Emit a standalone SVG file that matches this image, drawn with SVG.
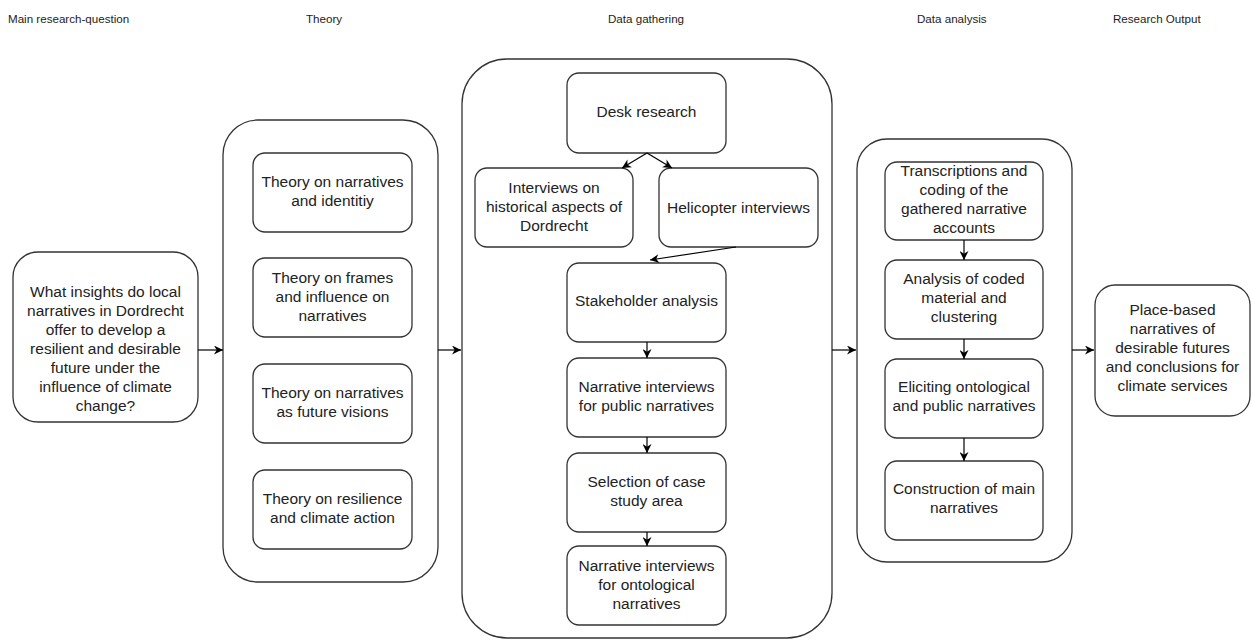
<svg xmlns="http://www.w3.org/2000/svg" width="1252" height="641" viewBox="0 0 1252 641">
<style>
.bg{fill:#fff}
.box{fill:#fff;stroke:#333;stroke-width:1.3}
.t{font-family:"Liberation Sans",Arial,sans-serif;font-size:15.5px;fill:#222;text-anchor:middle}
.h{font-family:"Liberation Sans",Arial,sans-serif;font-size:11.6px;fill:#222}
.c{fill:none;stroke:#000;stroke-width:1.2}
</style>
<defs>
<marker id="ah" viewBox="0 0 10 10" refX="10" refY="5" markerWidth="10" markerHeight="9" markerUnits="userSpaceOnUse" orient="auto">
<path d="M0,0 L10,5 L0,10 L3,5 z" fill="#000"/>
</marker>
</defs>
<rect class="bg" x="0" y="0" width="1252" height="641"/>

<g id="headers">
<text class="h" x="8" y="23">Main research-question</text>
<text class="h" x="306" y="23">Theory</text>
<text class="h" x="608" y="23">Data gathering</text>
<text class="h" x="917" y="23">Data analysis</text>
<text class="h" x="1113" y="23">Research Output</text>
</g>

<g id="question">
<rect class="box" x="13" y="252" width="185" height="170" rx="25"/>
<text class="t"><tspan x="105.5" y="297">What insights do local</tspan><tspan x="105.5" y="316">narratives in Dordrecht</tspan><tspan x="105.5" y="335">offer to develop a</tspan><tspan x="105.5" y="354">resilient and desirable</tspan><tspan x="105.5" y="373">future under the</tspan><tspan x="105.5" y="392">influence of climate</tspan><tspan x="105.5" y="411">change?</tspan></text>
</g>

<g id="theory">
<rect class="box" x="223" y="120" width="215" height="462" rx="35"/>
<g id="theory1"><rect class="box" x="253" y="153" width="159" height="79" rx="12"/>
<text class="t"><tspan x="332.5" y="187">Theory on narratives</tspan><tspan x="332.5" y="206">and identitiy</tspan></text></g>
<g id="theory2"><rect class="box" x="253" y="258" width="159" height="79" rx="12"/>
<text class="t"><tspan x="332.5" y="283">Theory on frames</tspan><tspan x="332.5" y="302">and influence on</tspan><tspan x="332.5" y="321">narratives</tspan></text></g>
<g id="theory3"><rect class="box" x="253" y="364" width="159" height="79" rx="12"/>
<text class="t"><tspan x="332.5" y="398">Theory on narratives</tspan><tspan x="332.5" y="417">as future visions</tspan></text></g>
<g id="theory4"><rect class="box" x="253" y="470" width="159" height="79" rx="12"/>
<text class="t"><tspan x="332.5" y="504">Theory on resilience</tspan><tspan x="332.5" y="523">and climate action</tspan></text></g>
</g>

<g id="gathering">
<rect class="box" x="462" y="59" width="370" height="579" rx="45"/>
<g id="desk"><rect class="box" x="567" y="73" width="159" height="80" rx="12"/>
<text class="t" x="646.5" y="117">Desk research</text></g>
<g id="historical"><rect class="box" x="475" y="168" width="158" height="79" rx="12"/>
<text class="t"><tspan x="554" y="193">Interviews on</tspan><tspan x="554" y="212">historical aspects of</tspan><tspan x="554" y="231">Dordrecht</tspan></text></g>
<g id="helicopter"><rect class="box" x="659" y="168" width="159" height="79" rx="12"/>
<text class="t" x="738.5" y="213">Helicopter interviews</text></g>
<g id="stakeholder"><rect class="box" x="567" y="263" width="159" height="79" rx="12"/>
<text class="t" x="646.5" y="306">Stakeholder analysis</text></g>
<g id="public"><rect class="box" x="567" y="358" width="159" height="79" rx="12"/>
<text class="t"><tspan x="646.5" y="392">Narrative interviews</tspan><tspan x="646.5" y="411">for public narratives</tspan></text></g>
<g id="selection"><rect class="box" x="567" y="453" width="159" height="79" rx="12"/>
<text class="t"><tspan x="646.5" y="487">Selection of case</tspan><tspan x="646.5" y="506">study area</tspan></text></g>
<g id="ontological"><rect class="box" x="567" y="546" width="159" height="79" rx="12"/>
<text class="t"><tspan x="646.5" y="571">Narrative interviews</tspan><tspan x="646.5" y="590">for ontological</tspan><tspan x="646.5" y="609">narratives</tspan></text></g>
</g>

<g id="analysis">
<rect class="box" x="857" y="139" width="215" height="423" rx="30"/>
<g id="transcriptions"><rect class="box" x="885" y="162" width="158" height="78" rx="12"/>
<text class="t"><tspan x="964" y="176">Transcriptions and</tspan><tspan x="964" y="195">coding of the</tspan><tspan x="964" y="214">gathered narrative</tspan><tspan x="964" y="233">accounts</tspan></text></g>
<g id="coded"><rect class="box" x="885" y="260" width="158" height="79" rx="12"/>
<text class="t"><tspan x="964" y="284">Analysis of coded</tspan><tspan x="964" y="303">material and</tspan><tspan x="964" y="322">clustering</tspan></text></g>
<g id="eliciting"><rect class="box" x="885" y="359" width="158" height="79" rx="12"/>
<text class="t"><tspan x="964" y="392">Eliciting ontological</tspan><tspan x="964" y="411">and public narratives</tspan></text></g>
<g id="construction"><rect class="box" x="885" y="461" width="158" height="79" rx="12"/>
<text class="t"><tspan x="964" y="494">Construction of main</tspan><tspan x="964" y="513">narratives</tspan></text></g>
</g>

<g id="output">
<rect class="box" x="1095" y="285" width="155" height="131" rx="20"/>
<text class="t"><tspan x="1172.5" y="315">Place-based</tspan><tspan x="1172.5" y="334">narratives of</tspan><tspan x="1172.5" y="353">desirable futures</tspan><tspan x="1172.5" y="372">and conclusions for</tspan><tspan x="1172.5" y="391">climate services</tspan></text>
</g>

<g id="connectors">
<line class="c" x1="198" y1="350" x2="223" y2="350" marker-end="url(#ah)"/>
<line class="c" x1="438" y1="350" x2="461" y2="350" marker-end="url(#ah)"/>
<line class="c" x1="832" y1="350" x2="856" y2="350" marker-end="url(#ah)"/>
<line class="c" x1="1072" y1="350" x2="1094" y2="350" marker-end="url(#ah)"/>
<line class="c" x1="647" y1="153" x2="622" y2="168" marker-end="url(#ah)"/>
<line class="c" x1="647" y1="153" x2="672" y2="168" marker-end="url(#ah)"/>
<line class="c" x1="736" y1="247" x2="650" y2="260" marker-end="url(#ah)"/>
<line class="c" x1="647" y1="342" x2="647" y2="358" marker-end="url(#ah)"/>
<line class="c" x1="647" y1="437" x2="647" y2="453" marker-end="url(#ah)"/>
<line class="c" x1="647" y1="532" x2="647" y2="546" marker-end="url(#ah)"/>
<line class="c" x1="964" y1="240" x2="964" y2="260" marker-end="url(#ah)"/>
<line class="c" x1="964" y1="339" x2="964" y2="359" marker-end="url(#ah)"/>
<line class="c" x1="964" y1="438" x2="964" y2="461" marker-end="url(#ah)"/>
</g>
</svg>
